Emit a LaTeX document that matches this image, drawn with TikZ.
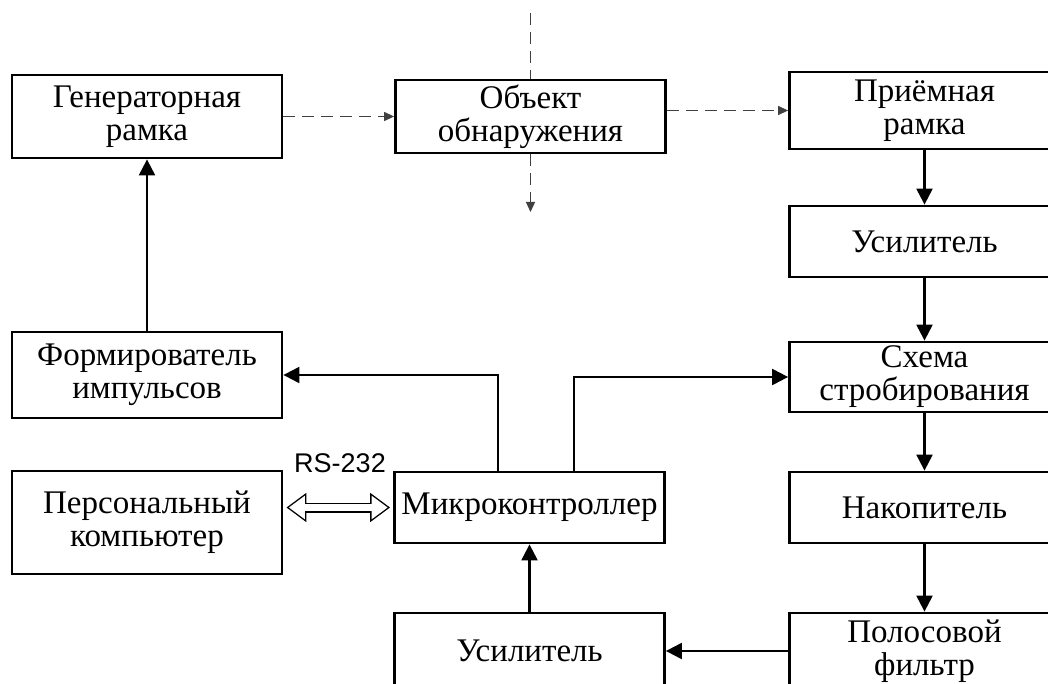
\documentclass[tikz,border=0pt]{standalone}
\usepackage{fontspec}
\setmainfont{Liberation Serif}
\newfontfamily\rsfont{Liberation Sans}
\usetikzlibrary{arrows.meta}
\tikzset{>={Triangle[length=8pt,width=8pt]}}
\tikzset{
  block/.style={draw, line width=1.4pt, minimum width=135pt, inner sep=0pt,
    align=center, font=\fontsize{16.5}{16.5}\selectfont},
  link/.style={->, line width=1.1pt},
  fieldline/.style={line width=0.6pt, draw=black!75, dash pattern=on 6pt off 3.5pt,
    -{Triangle[length=5pt,width=4.5pt]}},
  serialout/.style={line width=5pt, draw=black,
    {Triangle[length=10pt,width=14pt]}-{Triangle[length=10pt,width=14pt]},
    shorten <=1.5pt, shorten >=1.5pt},
  serialin/.style={line width=3.6pt, draw=white,
    {Triangle[length=8pt,width=11.2pt]}-{Triangle[length=8pt,width=11.2pt]},
    shorten <=2.7pt, shorten >=2.7pt}
}

\begin{document}
\begin{tikzpicture}[x=0.5pt,y=-0.5pt]
    \useasboundingbox (0,0) rectangle (1048,684);
    % set up the nodes
    \node[block, minimum height=41.5pt] (Gen) at (147,116.5) {Генераторная\\рамка};
    \node[block, minimum height=36.5pt] (Obj) at (530.5,116.5) {Объект\\обнаружения};
    \node[block, minimum height=38.5pt] (Rx) at (924.5,110.5) {Приёмная\\рамка};
    \node[block, minimum height=35.5pt] (AmpR) at (924.5,241.5) {Усилитель};
    \node[block, minimum height=35pt] (Strobe) at (924.5,377) {Схема\\стробирования};
    \node[block, minimum height=35.5pt] (Acc) at (924.5,507.5) {Накопитель};
    \node[block, minimum height=38pt] (Filt) at (924.5,651) {Полосовой\\фильтр};
    \node[block, minimum height=43pt] (Form) at (147,375) {Формирователь\\импульсов};
    \node[block, minimum height=51.5pt] (PC) at (147,522.5) {Персональный\\компьютер};
    \node[block, minimum height=35.5pt] (MCU) at (529.5,507.5) {Микроконтроллер};
    \node[block, minimum height=38pt] (AmpB) at (529.5,651) {Усилитель};
    \node[font=\rsfont\fontsize{13.5}{14}\selectfont] (RS) at (340,463) {RS-232};
    \coordinate (FieldIn) at (530.5,13);
    \coordinate (FieldOut) at (530.5,212);
    % field path (dashed)
    \draw[fieldline] (Gen) -- (Obj);
    \draw[fieldline] (Obj.east |- Rx) -- (Rx);
    \draw[fieldline, -] (FieldIn) -- (Obj.north);
    \draw[fieldline] (Obj.south) -- (FieldOut);
    % receive chain
    \draw[link] (Rx) -- (AmpR);
    \draw[link] (AmpR) -- (Strobe);
    \draw[link] (Strobe) -- (Acc);
    \draw[link] (Acc) -- (Filt);
    \draw[link] (Filt) -- (AmpB);
    \draw[link] (AmpB.north) -- (AmpB.north |- MCU.south);
    % control lines from the microcontroller
    \draw[link] ([xshift=-15.75pt]MCU.north) |- (Form);
    \draw[link] ([xshift=22.25pt]MCU.north) |- (Strobe);
    \draw[link] (Form) -- (Gen);
    % RS-232 link (hollow two-way arrow)
    \draw[serialout] (PC.east |- MCU) -- (MCU);
    \draw[serialin] (PC.east |- MCU) -- (MCU);
\end{tikzpicture}
\end{document}
